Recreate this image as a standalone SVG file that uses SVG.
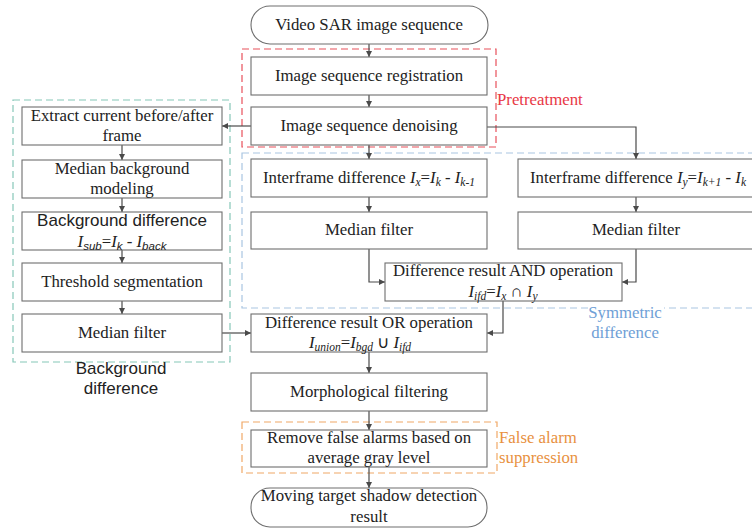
<svg xmlns="http://www.w3.org/2000/svg" width="752" height="529" viewBox="0 0 752 529">
  <defs>
    <marker id="arr" viewBox="0 0 10 10" refX="10" refY="5" markerWidth="6" markerHeight="6" markerUnits="userSpaceOnUse" orient="auto">
      <path d="M0,0 L10,5 L0,10 z" fill="#4a4a4a"/>
    </marker>
    <style>
      .box { fill: #ffffff; stroke: #6e6e6e; stroke-width: 1.1; }
      .t { font-family: "Liberation Serif", "Times New Roman", serif; font-size: 16.8px; fill: #222; text-anchor: middle; }
      .s { font-family: "Liberation Sans", Arial, sans-serif; font-size: 17px; fill: #222; text-anchor: middle; }
      .i { font-style: italic; }
      .sub { font-size: 11.5px; }
      .subs { font-size: 11.5px; font-family: "Liberation Sans", Arial, sans-serif; font-style: italic; }
      .conn { fill: none; stroke: #4a4a4a; stroke-width: 1.2; marker-end: url(#arr); }
      .grp { fill: none; stroke-width: 1.2; stroke-dasharray: 7 4; }
      .lbl { font-family: "Liberation Serif", "Times New Roman", serif; font-size: 16.8px; }
    </style>
  </defs>

  <rect width="752" height="529" fill="#ffffff"/>

  <!-- dashed stage groups -->
  <g id="groups">
    <rect class="grp" x="242" y="153" width="530" height="155" stroke="#a9c5e2"/>
    <rect class="grp" x="13" y="100" width="217" height="262" stroke="#86c7b8"/>
    <rect class="grp" x="242" y="49" width="254" height="98" stroke="#e8505b"/>
    <rect class="grp" x="242" y="422" width="255" height="51" stroke="#f0a867"/>
  </g>

  <!-- group labels -->
  <g id="group-labels">
    <text class="lbl" x="497" y="105" fill="#e83846">Pretreatment</text>
    <rect x="588" y="302" width="76" height="12" fill="#ffffff"/>
    <text class="lbl" x="625" y="318" fill="#6f9fd6" text-anchor="middle">Symmetric</text>
    <text class="lbl" x="625" y="338" fill="#6f9fd6" text-anchor="middle">difference</text>
    <text class="s" x="121" y="374" fill="#333">Background</text>
    <text class="s" x="121" y="394" fill="#333">difference</text>
    <text class="lbl" x="499" y="443" fill="#e8913f">False alarm</text>
    <text class="lbl" x="499" y="463" fill="#e8913f">suppression</text>
  </g>

  <!-- connectors -->
  <g id="connectors">
    <path class="conn" d="M369,44 V57"/>
    <path class="conn" d="M369,95 V107"/>
    <path class="conn" d="M369,145 V159"/>
    <path class="conn" d="M251,126 H222"/>
    <path class="conn" d="M487,127 H636 V159"/>
    <path class="conn" d="M369,197 V212"/>
    <path class="conn" d="M636,197 V212"/>
    <path class="conn" d="M369,249 V282 H385"/>
    <path class="conn" d="M636,249 V282 H622"/>
    <path class="conn" d="M503,301 V333 H487"/>
    <path class="conn" d="M122,145 V160"/>
    <path class="conn" d="M122,198 V212"/>
    <path class="conn" d="M122,250 V263"/>
    <path class="conn" d="M122,301 V314"/>
    <path class="conn" d="M222,333 H251"/>
    <path class="conn" d="M369,352 V373"/>
    <path class="conn" d="M369,411 V430"/>
    <path class="conn" d="M369,467 V488"/>
  </g>

  <g id="n-input">
    <rect class="box" x="251" y="6" width="237" height="38" rx="19"/>
    <text class="t" x="369" y="30">Video SAR image sequence</text>
  </g>
  <g id="n-registration">
    <rect class="box" x="251" y="57" width="236" height="38"/>
    <text class="t" x="369" y="81">Image sequence registration</text>
  </g>
  <g id="n-denoising">
    <rect class="box" x="251" y="107" width="236" height="38"/>
    <text class="t" x="369" y="131">Image sequence denoising</text>
  </g>

  <g id="n-extract">
    <rect class="box" x="22" y="107" width="200" height="38"/>
    <text class="t" x="122" y="121">Extract current before/after</text>
    <text class="t" x="122" y="141">frame</text>
  </g>
  <g id="n-median-bg">
    <rect class="box" x="22" y="160" width="200" height="38"/>
    <text class="t" x="122" y="174">Median background</text>
    <text class="t" x="122" y="194">modeling</text>
  </g>
  <g id="n-bg-diff">
    <rect class="box" x="22" y="212" width="200" height="38"/>
    <text class="s" x="122" y="226">Background difference</text>
    <text class="t" x="122" y="247"><tspan class="i">I</tspan><tspan class="subs" dy="3">sub</tspan><tspan dy="-3">=</tspan><tspan class="i">I</tspan><tspan class="subs" dy="3">k</tspan><tspan dy="-3"> - </tspan><tspan class="i">I</tspan><tspan class="subs" dy="3">back</tspan></text>
  </g>
  <g id="n-threshold">
    <rect class="box" x="22" y="263" width="200" height="38"/>
    <text class="t" x="122" y="287">Threshold segmentation</text>
  </g>
  <g id="n-median-left">
    <rect class="box" x="22" y="314" width="200" height="38"/>
    <text class="t" x="122" y="338">Median filter</text>
  </g>

  <g id="n-interframe-x">
    <rect class="box" x="251" y="159" width="236" height="38"/>
    <text class="t" x="369" y="183">Interframe difference  <tspan class="i">I</tspan><tspan class="sub i" dy="3">x</tspan><tspan dy="-3">=</tspan><tspan class="i">I</tspan><tspan class="sub i" dy="3">k</tspan><tspan dy="-3"> - </tspan><tspan class="i">I</tspan><tspan class="sub i" dy="3">k-1</tspan></text>
  </g>
  <g id="n-median-x">
    <rect class="box" x="251" y="212" width="236" height="37"/>
    <text class="t" x="369" y="235">Median filter</text>
  </g>
  <g id="n-interframe-y">
    <rect class="box" x="518" y="159" width="250" height="38"/>
    <text class="t" x="638" y="183">Interframe difference  <tspan class="i">I</tspan><tspan class="sub i" dy="3">y</tspan><tspan dy="-3">=</tspan><tspan class="i">I</tspan><tspan class="sub i" dy="3">k+1</tspan><tspan dy="-3"> - </tspan><tspan class="i">I</tspan><tspan class="sub i" dy="3">k</tspan></text>
  </g>
  <g id="n-median-y">
    <rect class="box" x="518" y="212" width="250" height="37"/>
    <text class="t" x="636" y="235">Median filter</text>
  </g>

  <g id="n-and">
    <rect class="box" x="385" y="263" width="237" height="38"/>
    <text class="t" x="503" y="276">Difference result AND operation</text>
    <text class="t" x="503" y="297"><tspan class="i">I</tspan><tspan class="sub i" dy="3">ifd</tspan><tspan dy="-3">=</tspan><tspan class="i">I</tspan><tspan class="sub i" dy="3">x</tspan><tspan dy="-3"> ∩ </tspan><tspan class="i">I</tspan><tspan class="sub i" dy="3">y</tspan></text>
  </g>

  <g id="n-or">
    <rect class="box" x="251" y="314" width="236" height="38"/>
    <text class="t" x="369" y="328">Difference result OR operation</text>
    <text class="t" x="360" y="348"><tspan class="i">I</tspan><tspan class="sub i" dy="3">union</tspan><tspan dy="-3">=</tspan><tspan class="i">I</tspan><tspan class="sub i" dy="3">bgd</tspan><tspan dy="-3"> ∪ </tspan><tspan class="i">I</tspan><tspan class="sub i" dy="3">ifd</tspan></text>
  </g>

  <g id="n-morph">
    <rect class="box" x="251" y="373" width="236" height="38"/>
    <text class="t" x="369" y="397">Morphological filtering</text>
  </g>

  <g id="n-false-alarm">
    <rect class="box" x="251" y="430" width="236" height="37"/>
    <text class="t" x="369" y="443">Remove false alarms based on</text>
    <text class="t" x="369" y="463">average gray level</text>
  </g>

  <g id="n-result">
    <rect class="box" x="251" y="488" width="236" height="39" rx="19"/>
    <text class="t" x="369" y="501">Moving target shadow detection</text>
    <text class="t" x="369" y="522">result</text>
  </g>
</svg>
